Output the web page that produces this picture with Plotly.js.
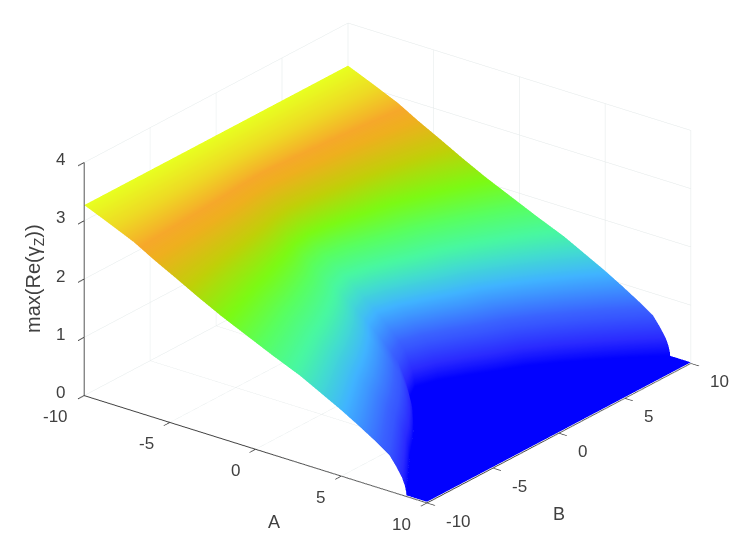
<!DOCTYPE html>
<html><head><meta charset="utf-8">
<script src="https://cdn.plot.ly/plotly-3.0.1.min.js"></script>
<style>html,body{margin:0;padding:0;background:#fff}#g{width:747px;height:548px}</style></head>
<body><div id="g"></div>
<script>
// Surface heights; each column of aAtLevel gives the A where, at that B row, the surface has this height.
const zLevels=[3.27,3.10,2.9,2.7,2.5,2.3,2.1,1.9,1.7,1.5,1.3,1.13,.96,.78,.62,.46,.30,.18,.08,.02,.02];
const bValues=[-10,-8.75,-7.5,-6.25,-5,-3.75,-2.5,-1.25,0,1.25,2.5,3.75,5,6.25,7.5,8.75,10];
const aAtLevel=[
[-10,-8.64,-7.1,-5.9,-4.6,-3.34,-2,-.5,1,2.6,3.9,5,6,7,7.8,8.2,8.54,8.7,8.78,8.8,10],
[-10,-8.66,-7.17,-6.04,-4.82,-3.66,-2.38,-.95,.48,2.0,3.24,4.29,5.24,6.19,6.95,7.33,7.66,7.81,7.89,7.9,10],
[-10,-8.67,-7.24,-6.16,-5.03,-3.98,-2.77,-1.41,-.05,1.39,2.57,3.56,4.47,5.37,6.09,6.46,6.76,6.91,6.98,7.0,10],
[-10,-8.69,-7.3,-6.28,-5.23,-4.26,-3.15,-1.87,-.58,.79,1.9,2.84,3.7,4.55,5.24,5.58,5.87,6.01,6.08,6.1,10],
[-10,-8.7,-7.36,-6.39,-5.4,-4.5,-3.49,-2.27,-1.05,.25,1.31,2.2,3.02,3.83,4.48,4.81,5.09,5.22,5.28,5.3,10],
[-10,-8.72,-7.43,-6.51,-5.59,-4.75,-3.87,-2.73,-1.58,-.35,.64,1.49,2.25,3.02,3.63,3.94,4.2,4.32,4.38,4.4,10],
[-10,-8.75,-7.52,-6.65,-5.79,-5.01,-4.23,-3.23,-2.16,-1.02,-.09,.69,1.4,2.12,2.69,2.97,3.21,3.33,3.39,3.4,10],
[-10,-8.78,-7.61,-6.81,-6.02,-5.32,-4.62,-3.84,-2.86,-1.82,-.98,-.27,.38,1.03,1.55,1.81,2.03,2.14,2.19,2.2,10],
[-10,-8.79,-7.66,-6.9,-6.14,-5.47,-4.8,-4.1,-3.21,-2.23,-1.43,-.75,-.13,.49,.98,1.23,1.44,1.54,1.59,1.6,10],
[-10,-8.78,-7.63,-6.84,-6.06,-5.37,-4.68,-3.94,-2.98,-1.96,-1.13,-.43,.21,.85,1.36,1.61,1.83,1.93,1.98,2.0,10],
[-10,-8.76,-7.57,-6.75,-5.93,-5.19,-4.46,-3.58,-2.57,-1.49,-.61,.14,.81,1.49,2.03,2.3,2.53,2.64,2.69,2.7,10],
[-10,-8.74,-7.51,-6.64,-5.77,-4.99,-4.2,-3.18,-2.1,-.95,-.02,.77,1.49,2.2,2.78,3.07,3.31,3.42,3.48,3.5,10],
[-10,-8.73,-7.45,-6.55,-5.63,-4.8,-3.97,-2.82,-1.69,-.48,.5,1.33,2.08,2.84,3.44,3.75,4,4.12,4.18,4.2,10],
[-10,-8.71,-7.37,-6.41,-5.43,-4.53,-3.53,-2.32,-1.11,.19,1.24,2.13,2.93,3.74,4.39,4.71,4.99,5.12,5.18,5.2,10],
[-10,-8.68,-7.29,-6.26,-5.19,-4.2,-3.06,-1.76,-.46,.93,2.06,3.01,3.88,4.74,5.44,5.78,6.08,6.22,6.29,6.3,10],
[-10,-8.66,-7.2,-6.09,-4.92,-3.8,-2.55,-1.15,.24,1.73,2.94,3.97,4.9,5.83,6.57,6.95,7.26,7.41,7.49,7.5,10],
[-10,-8.64,-7.1,-5.9,-4.6,-3.34,-2,-.5,1,2.6,3.9,5,6,7,7.8,8.2,8.54,8.7,8.78,8.8,10]
];
const colorStops=[[0,'#0000ff'],[.092,'#2a2aff'],[.214,'#3a62ff'],[.336,'#40b4ff'],[.413,'#42dcd0'],[.474,'#48f8a0'],[.55,'#58ff60'],[.63,'#7cfa14'],[.734,'#c0d008'],[.826,'#eeb01e'],[.872,'#f6a82a'],[.933,'#eed824'],[1,'#e8ff20']];
const axisTicks=[-10,-5,0,5,10];
const zTicks=[0,1,2,3,4];
const fontFamily='"Liberation Sans",Arial,sans-serif';
const tickFont={family:fontFamily,size:17,color:'#404040'};
const titleFont={family:fontFamily,size:18,color:'#404040'};
const yTitleFont={family:fontFamily,size:20,color:'#404040'};
function axis(range,ticks){return {range:range,tickvals:ticks,tickmode:'array',showticklabels:false,
  showgrid:true,gridcolor:'#e2e8e8',gridwidth:1,zeroline:false,showline:true,linecolor:'#404040',linewidth:2,
  ticks:'outside',ticklen:10,tickcolor:'#404040',tickwidth:2,showbackground:false,showspikes:false,title:{text:''}};}
const trace={type:'surface',x:aAtLevel,y:bValues.map(b=>zLevels.map(()=>b)),z:bValues.map(()=>zLevels),
  cmin:0,cmax:3.27,colorscale:colorStops,showscale:false,hoverinfo:'skip',
  lighting:{ambient:1,diffuse:0,specular:0,roughness:1,fresnel:0}};
const sceneLabels=[
 ...axisTicks.map(v=>({x:v,y:-10,z:0,text:String(v),showarrow:false,xanchor:'right',yanchor:'middle',xshift:-14,yshift:-21,font:tickFont})),
 ...axisTicks.map(v=>({x:10,y:v,z:0,text:String(v),showarrow:false,xanchor:'left',yanchor:'middle',xshift:17,yshift:-18,font:tickFont})),
 ...zTicks.map(v=>({x:-10,y:-10,z:v,text:String(v),showarrow:false,xanchor:'right',yanchor:'middle',xshift:-17,yshift:3,font:tickFont}))
];
const layout={width:747,height:548,margin:{l:0,r:0,t:0,b:0},paper_bgcolor:'#fff',showlegend:false,
 scene:{domain:{x:[.0375,1],y:[.04,1]},aspectmode:'manual',aspectratio:{x:1.645,y:1.645,z:.97},
  camera:{eye:{x:1.67,y:-2.17,z:1.22},center:{x:0,y:0,z:0},up:{x:0,y:0,z:1},projection:{type:'orthographic'}},
  xaxis:axis([-10,10],axisTicks),yaxis:axis([-10,10],axisTicks),zaxis:axis([0,4],zTicks),annotations:sceneLabels},
 annotations:[
  {text:'A',xref:'paper',yref:'paper',x:274/747,y:1-522/548,xanchor:'center',yanchor:'middle',showarrow:false,font:titleFont},
  {text:'B',xref:'paper',yref:'paper',x:559/747,y:1-514/548,xanchor:'center',yanchor:'middle',showarrow:false,font:titleFont},
  {text:'max(Re(γ<sub>Z</sub>))',xref:'paper',yref:'paper',x:34/747,y:1-279/548,xanchor:'center',yanchor:'middle',showarrow:false,textangle:-90,font:yTitleFont}
 ]};
Plotly.newPlot('g',[trace],layout,{displayModeBar:false});
</script></body></html>
